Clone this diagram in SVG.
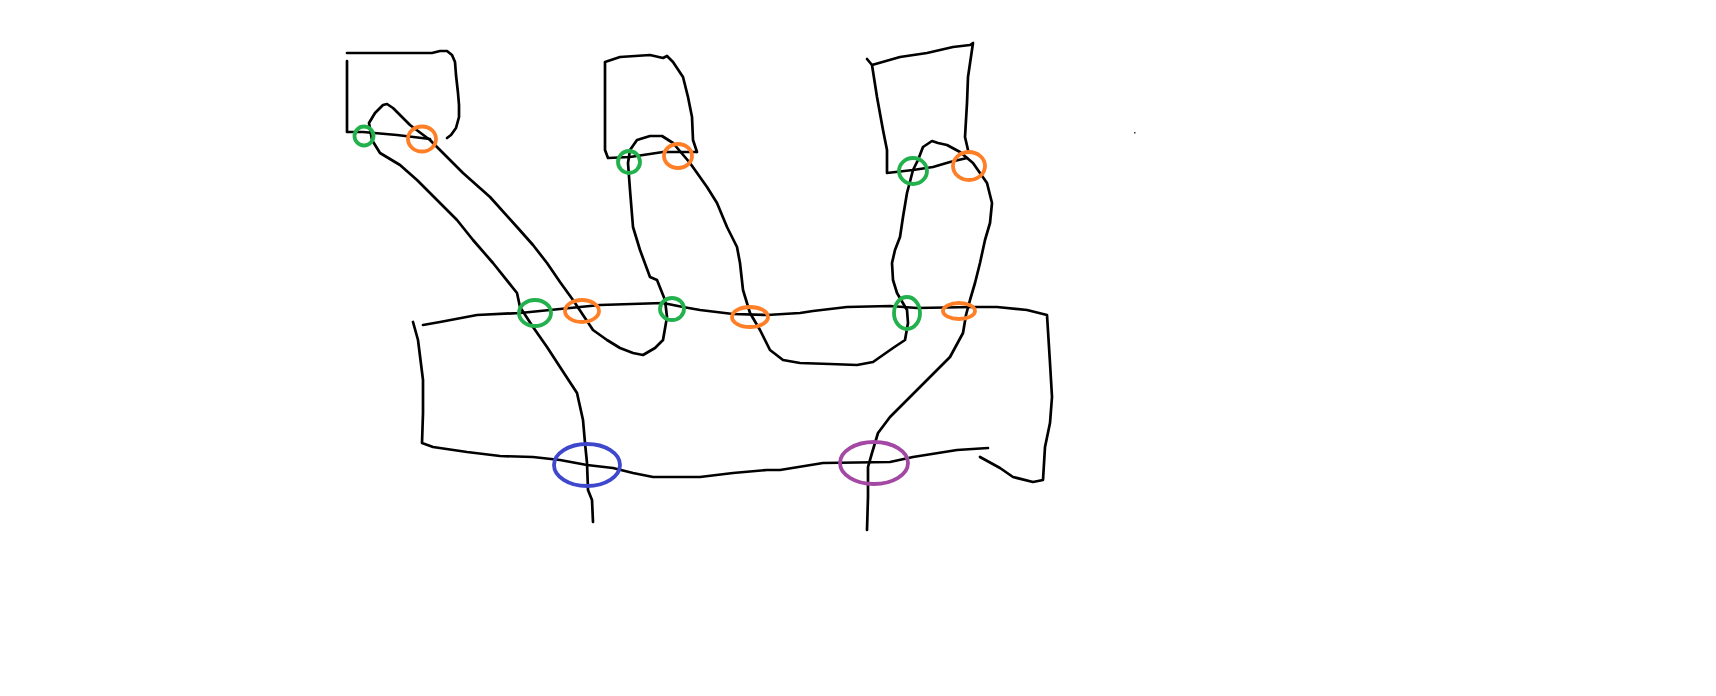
<svg xmlns="http://www.w3.org/2000/svg" width="1716" height="696" viewBox="0 0 1716 696">
<style>
.ink{fill:none;stroke:#000;stroke-width:2.7;stroke-linejoin:round;stroke-linecap:round}
.ring{fill:none;stroke-width:3.8}
.g{stroke:#22b14c}.o{stroke:#ff7f27}.b{stroke:#3f48cc}.p{stroke:#a349a4}
</style>
<rect width="1716" height="696" fill="#fff"/>
<g id="boxes">
<path class="ink" d="M347,61 L347,132 L363,132 L397,135 L430,139 M347,53 L432,53 L440,51 L447,51 L452,55 L455,62 L456,75 L458,93 L459,105 L459,117 L456,128 L451,135 L447,138"/>
<path class="ink" d="M697,152 L663,152 L630,157 L608,158 L605,150 L605,62 L620,57 L650,55 L663,58 L667,56 L673,62 L683,77 L688,97 L692,117 L693,140 L697,152"/>
<path class="ink" d="M867,59 L872,65 L900,57 L927,53 L953,47 L970,45 L973,43 L968,77 L967,103 L965,137 L968,150 M872,65 L877,97 L883,130 L887,150 L887,173 L913,170 L933,167 L950,162 L967,158"/>
<path class="ink" d="M423,325 L440,322 L477,315 L520,313 L550,310 L600,305 L663,303 L683,307 L700,310 L733,314 L767,315 L800,313 L813,311 L847,307 L890,306 L917,308 L973,307 L997,307 L1027,310 L1047,315 L1050,363 L1052,397 L1050,423 L1045,447 L1043,480 L1033,482 L1013,477 L1000,468 L980,457"/>
<path class="ink" d="M988,448 L957,450 L913,457 L890,462 L823,463 L780,470 L767,470 L733,473 L700,477 L653,477 L633,473 L613,468 L587,465 L560,460 L533,457 L500,456 L467,452 L433,447 L422,443 L423,413 L423,380 L418,340 L413,322"/>
</g>
<g id="connectors">
<path class="ink" d="M593,522 L592,500 L588,490 L587,463 L585,443 L583,420 L577,393 L560,367 L547,347 L533,327 L520,307 L517,293 L493,263 L473,240 L457,220 L437,200 L417,180 L400,165 L380,153 L372,140 L369,123 L375,113 L383,105 L387,104 L393,108 L410,125 L430,140 L447,157 L463,173 L490,197 L517,227 L533,245 L547,263 L560,282 L573,300 L593,330 L607,340 L620,348 L633,353 L643,355 L655,348 L663,340 L667,317 L665,300 L657,280 L650,277 L640,250 L633,227 L630,190 L628,163 L630,150 L637,140 L650,136 L662,136 L673,143 L690,163 L707,187 L717,203 L727,227 L737,247 L740,263 L743,290 L750,313 L760,330 L770,350 L783,360 L800,363 L830,364 L857,365 L873,362 L893,348 L905,340 L908,323 L907,310 L897,293 L893,280 L892,263 L895,250 L900,237 L903,217 L907,193 L913,170 L918,160 L923,147 L932,141 L938,143 L947,145 L960,152 L973,163 L987,183 L992,203 L990,223 L985,240 L980,263 L975,283 L970,300 L966,315 L963,333 L950,357 L930,377 L910,397 L890,417 L878,433 L872,453 L868,467 L868,497 L867,530"/>
</g>
<g id="rings">
<ellipse class="ring g" cx="364" cy="136" rx="9.5" ry="9.5"/>
<ellipse class="ring o" cx="422" cy="139" rx="14" ry="12.5"/>
<ellipse class="ring g" cx="629" cy="162" rx="11" ry="11"/>
<ellipse class="ring o" cx="678" cy="156" rx="14" ry="12"/>
<ellipse class="ring g" cx="913" cy="171" rx="14" ry="13"/>
<ellipse class="ring o" cx="969" cy="166" rx="16" ry="14"/>
<ellipse class="ring g" cx="535" cy="313" rx="16" ry="13"/>
<ellipse class="ring o" cx="582" cy="311" rx="17" ry="11"/>
<ellipse class="ring g" cx="672" cy="309" rx="12" ry="11"/>
<ellipse class="ring o" cx="750" cy="317" rx="18" ry="10"/>
<ellipse class="ring g" cx="907" cy="313" rx="13" ry="16"/>
<ellipse class="ring o" cx="959" cy="311" rx="16" ry="8"/>
<ellipse class="ring b" cx="587" cy="465" rx="33" ry="21"/>
<ellipse class="ring p" cx="874" cy="463" rx="34" ry="21"/>
</g>
<rect x="1134" y="132" width="1.5" height="1.5" fill="#333"/>
</svg>
